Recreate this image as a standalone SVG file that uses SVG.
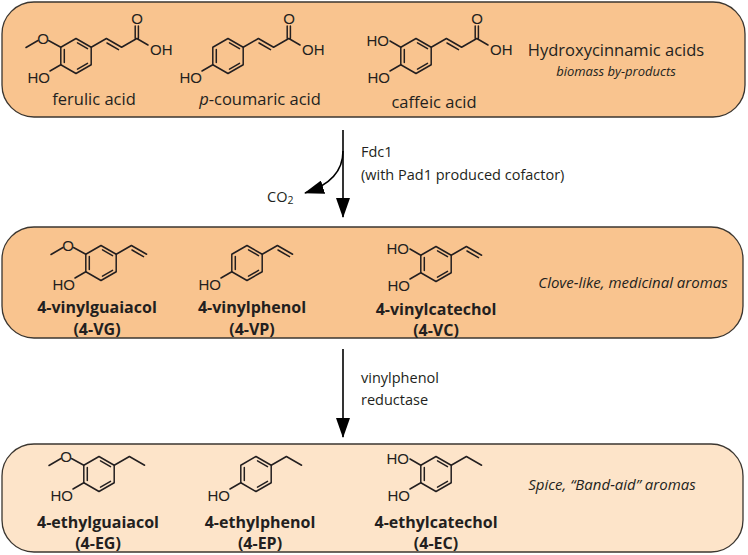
<svg xmlns="http://www.w3.org/2000/svg" xmlns:xlink="http://www.w3.org/1999/xlink" width="748" height="555" viewBox="0 0 748 555">
<style>
.box{fill:#f9c48f;stroke:#3b3630;stroke-width:1.3}
.box2{fill:#fde4c9;stroke:#3b3630;stroke-width:1.3}
.b{fill:none;stroke:#231f20;stroke-width:1.5;stroke-linecap:round;stroke-linejoin:round}
.at{font-family:"Liberation Sans",Arial,sans-serif;font-size:15px;fill:#231f20}
.lbl{font-family:"Open Sans","Liberation Sans",sans-serif;font-size:16px;fill:#231f20;text-anchor:middle}
.bold{font-weight:bold}
.it{font-style:italic}
.ann{font-family:"Open Sans","Liberation Sans",sans-serif;font-size:14.5px;fill:#231f20}
.arr{fill:none;stroke:#000;stroke-width:1.6}
</style>
<defs>
<marker id="ahB" viewBox="0 0 20 14" refX="19" refY="7" markerWidth="20" markerHeight="14" orient="auto" markerUnits="userSpaceOnUse">
<path d="M0,0 L20,7 L0,14 z" fill="#000"/>
</marker>
<g id="ring">
<path class="b" d="M0,-17.5 L15.2,-8.75 L15.2,8.75 L0,17.5 L-15.2,8.75 L-15.2,-8.75 Z"/>
<path class="b" d="M-11.7,-6.5 L-11.7,6.5 M1.5,-13.2 L11.5,-7.4 M11.5,7.4 L1.5,13.2"/>
</g>
<path id="acid" class="b" d="M15.2,-8.75 L30.4,-17.5 L45.6,-8.75 L60.8,-17.5 L72,-11 M31,-13 L42.5,-6.3 M59.2,-17.5 L59.2,-30 M62.4,-17.5 L62.4,-30"/>
<path id="vinyl" class="b" d="M15.2,-8.75 L30.4,-17.5 L45.6,-8.75 M31,-13 L42.5,-6.3"/>
<path id="ethyl" class="b" d="M15.2,-8.75 L30.4,-17.5 L45.6,-8.75"/>
<path id="ome" class="b" d="M-15.2,-8.75 L-27.5,-15.5 M-38,-15.5 L-50,-8.5"/>
<path id="hol" class="b" d="M-15.2,8.75 L-26,15"/>
<path id="hou" class="b" d="M-15.2,-8.75 L-26,-15"/>
</defs>

<g id="box-hydroxycinnamic">
<rect class="box" x="2" y="2" width="743" height="115" rx="32"/>
<text class="lbl" x="616" y="56" style="font-size:16.5px">Hydroxycinnamic acids</text>
<text class="lbl it" x="616" y="76" style="font-size:13px">biomass by-products</text>
</g>
<g id="ferulic-acid" transform="translate(76,56)">
<use href="#ring"/><use href="#acid"/><use href="#ome"/><use href="#hol"/>
<text class="at" x="-33" y="-12" text-anchor="middle">O</text>
<text class="at" x="-26" y="27" text-anchor="end">HO</text>
<text class="at" x="61" y="-32" text-anchor="middle">O</text>
<text class="at" x="74" y="-1">OH</text>
<text class="lbl" x="18" y="49" style="font-size:16.5px">ferulic acid</text>
</g>
<g id="p-coumaric-acid" transform="translate(228,56)">
<use href="#ring"/><use href="#acid"/><use href="#hol"/>
<text class="at" x="-26" y="27" text-anchor="end">HO</text>
<text class="at" x="61" y="-32" text-anchor="middle">O</text>
<text class="at" x="74" y="-1">OH</text>
<text class="lbl" x="32" y="49" style="font-size:16.5px"><tspan class="it">p</tspan>-coumaric acid</text>
</g>
<g id="caffeic-acid" transform="translate(416,56)">
<use href="#ring"/><use href="#acid"/><use href="#hou"/><use href="#hol"/>
<text class="at" x="-27" y="-10" text-anchor="end">HO</text>
<text class="at" x="-26" y="27" text-anchor="end">HO</text>
<text class="at" x="61" y="-32" text-anchor="middle">O</text>
<text class="at" x="74" y="-1">OH</text>
<text class="lbl" x="18" y="52" style="font-size:16.5px">caffeic acid</text>
</g>

<g id="box-vinyl">
<rect class="box" x="2" y="227" width="741" height="111" rx="32"/>
<text class="lbl it" x="633" y="288" style="font-size:15px">Clove-like, medicinal aromas</text>
</g>
<g id="vg" transform="translate(101,263)">
<use href="#ring"/><use href="#vinyl"/><use href="#ome"/><use href="#hol"/>
<text class="at" x="-33" y="-12" text-anchor="middle">O</text>
<text class="at" x="-26" y="27" text-anchor="end">HO</text>
<text class="lbl bold" x="-4" y="50">4-vinylguaiacol</text>
<text class="lbl bold" x="-4" y="72">(4-VG)</text>
</g>
<g id="vp" transform="translate(247,263)">
<use href="#ring"/><use href="#vinyl"/><use href="#hol"/>
<text class="at" x="-26" y="27" text-anchor="end">HO</text>
<text class="lbl bold" x="5" y="50">4-vinylphenol</text>
<text class="lbl bold" x="5" y="72">(4-VP)</text>
</g>
<g id="vc" transform="translate(436,264)">
<use href="#ring"/><use href="#vinyl"/><use href="#hou"/><use href="#hol"/>
<text class="at" x="-27" y="-10" text-anchor="end">HO</text>
<text class="at" x="-26" y="27" text-anchor="end">HO</text>
<text class="lbl bold" x="0" y="51">4-vinylcatechol</text>
<text class="lbl bold" x="0" y="72">(4-VC)</text>
</g>

<g id="box-ethyl">
<rect class="box2" x="2" y="444" width="741" height="108" rx="32"/>
<text class="lbl it" x="612" y="490" style="font-size:15px">Spice, “Band-aid” aromas</text>
</g>
<g id="eg" transform="translate(99,474)">
<use href="#ring"/><use href="#ethyl"/><use href="#ome"/><use href="#hol"/>
<text class="at" x="-33" y="-12" text-anchor="middle">O</text>
<text class="at" x="-26" y="27" text-anchor="end">HO</text>
<text class="lbl bold" x="-1" y="54">4-ethylguaiacol</text>
<text class="lbl bold" x="-1" y="75">(4-EG)</text>
</g>
<g id="ep" transform="translate(256,474)">
<use href="#ring"/><use href="#ethyl"/><use href="#hol"/>
<text class="at" x="-26" y="27" text-anchor="end">HO</text>
<text class="lbl bold" x="4" y="54">4-ethylphenol</text>
<text class="lbl bold" x="4" y="75">(4-EP)</text>
</g>
<g id="ec" transform="translate(436,474)">
<use href="#ring"/><use href="#ethyl"/><use href="#hou"/><use href="#hol"/>
<text class="at" x="-27" y="-10" text-anchor="end">HO</text>
<text class="at" x="-26" y="27" text-anchor="end">HO</text>
<text class="lbl bold" x="0" y="54">4-ethylcatechol</text>
<text class="lbl bold" x="0" y="75">(4-EC)</text>
</g>

<g id="connectors">
<line class="arr" x1="343" y1="130" x2="343" y2="217" marker-end="url(#ahB)"/>
<path class="arr" d="M343,151 C343,172 330,185 305,193" marker-end="url(#ahB)"/>
<text class="ann" x="361" y="157">Fdc1</text>
<text class="ann" x="361" y="180">(with Pad1 produced cofactor)</text>
<text class="ann" x="267" y="202">CO<tspan font-size="10.5" dy="2">2</tspan></text>
<line class="arr" x1="343" y1="349" x2="343" y2="437" marker-end="url(#ahB)"/>
<text class="ann" x="361" y="383">vinylphenol</text>
<text class="ann" x="361" y="405">reductase</text>
</g>
</svg>
